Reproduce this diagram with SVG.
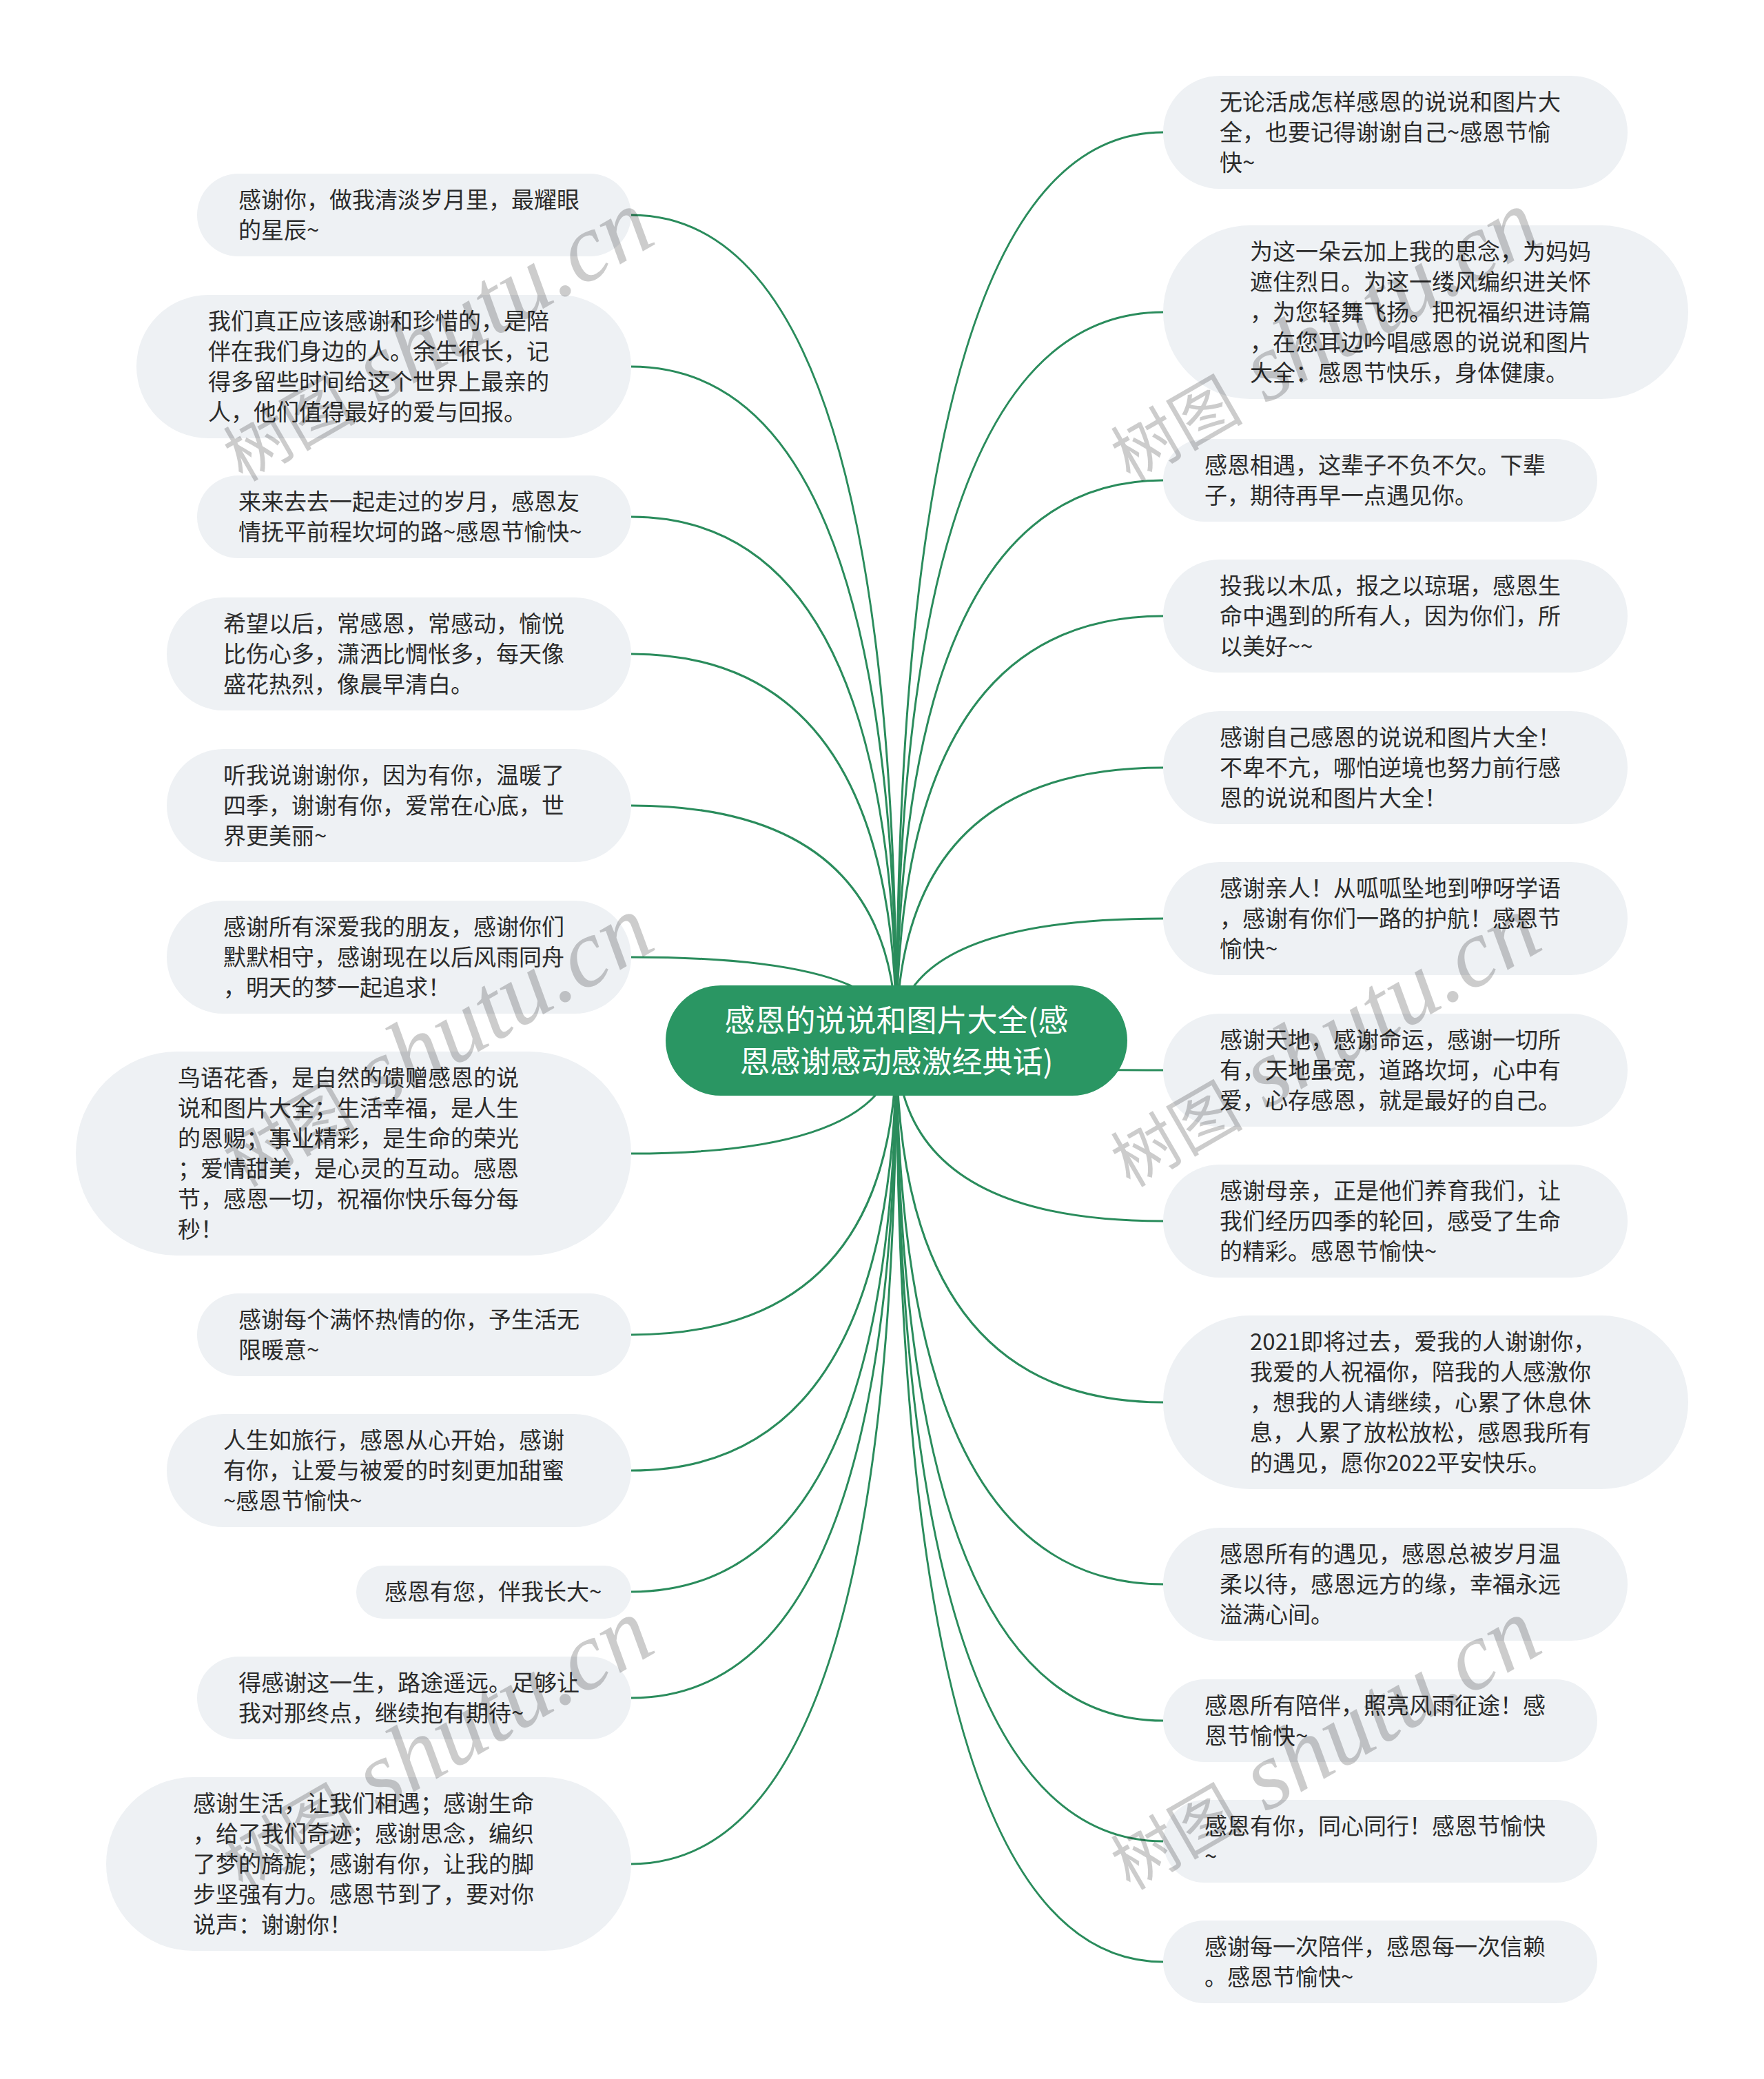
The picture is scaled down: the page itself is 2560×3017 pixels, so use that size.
<svg xmlns="http://www.w3.org/2000/svg" width="2560" height="3017" viewBox="0 0 2560 3017">
<style>
.bg{fill:#ffffff}
.edge{fill:none;stroke:#2a8c5c;stroke-width:3}
.leaf rect{fill:#eef1f4}
.leaf text{font-family:"Noto Sans CJK SC","Noto Sans",sans-serif;font-size:33px;fill:#2b2b2b}
.root rect{fill:#2a9663}
.root text{font-family:"Noto Sans CJK SC","Noto Sans",sans-serif;font-size:44px;fill:#ffffff;text-anchor:middle}
.wm{fill:#000000;fill-opacity:0.2}
.wm .cj{font-family:"Noto Sans CJK SC",serif;font-size:96px}
.wm .la{font-family:"Liberation Serif",serif;font-style:italic;font-size:140px}
</style>
<rect class="bg" x="0" y="0" width="2560" height="3017"/>
<g id="connectors">
<path class="edge" d="M1301,1510 Q1301,312 916,312"/>
<path class="edge" d="M1301,1510 Q1301,532 916,532"/>
<path class="edge" d="M1301,1510 Q1301,750 916,750"/>
<path class="edge" d="M1301,1510 Q1301,949 916,949"/>
<path class="edge" d="M1301,1510 Q1301,1169 916,1169"/>
<path class="edge" d="M1301,1510 Q1301,1389 916,1389"/>
<path class="edge" d="M1301,1510 Q1301,1674 916,1674"/>
<path class="edge" d="M1301,1510 Q1301,1937 916,1937"/>
<path class="edge" d="M1301,1510 Q1301,2134 916,2134"/>
<path class="edge" d="M1301,1510 Q1301,2310 916,2310"/>
<path class="edge" d="M1301,1510 Q1301,2464 916,2464"/>
<path class="edge" d="M1301,1510 Q1301,2705 916,2705"/>
<path class="edge" d="M1301,1510 Q1301,192 1688,192"/>
<path class="edge" d="M1301,1510 Q1301,453 1688,453"/>
<path class="edge" d="M1301,1510 Q1301,697 1688,697"/>
<path class="edge" d="M1301,1510 Q1301,894 1688,894"/>
<path class="edge" d="M1301,1510 Q1301,1114 1688,1114"/>
<path class="edge" d="M1301,1510 Q1301,1333 1688,1333"/>
<path class="edge" d="M1301,1510 Q1301,1553 1688,1553"/>
<path class="edge" d="M1301,1510 Q1301,1772 1688,1772"/>
<path class="edge" d="M1301,1510 Q1301,2035 1688,2035"/>
<path class="edge" d="M1301,1510 Q1301,2299 1688,2299"/>
<path class="edge" d="M1301,1510 Q1301,2497 1688,2497"/>
<path class="edge" d="M1301,1510 Q1301,2672 1688,2672"/>
<path class="edge" d="M1301,1510 Q1301,2847 1688,2847"/>
</g>
<g id="root" class="root">
<rect x="966" y="1430" width="670" height="160" rx="80"/>
<text x="1301" y="1497">感恩的说说和图片大全(感</text>
<text x="1301" y="1557">恩感谢感动感激经典话)</text>
</g>
<g id="L1" class="leaf"><rect x="286" y="252" width="630" height="120" rx="60"/>
<text x="346" y="302">感谢你，做我清淡岁月里，最耀眼</text><text x="346" y="346">的星辰~</text></g>
<g id="L2" class="leaf"><rect x="198" y="428" width="718" height="208" rx="104"/>
<text x="302" y="478">我们真正应该感谢和珍惜的，是陪</text><text x="302" y="522">伴在我们身边的人。余生很长，记</text><text x="302" y="566">得多留些时间给这个世界上最亲的</text><text x="302" y="610">人，他们值得最好的爱与回报。</text></g>
<g id="L3" class="leaf"><rect x="286" y="690" width="630" height="120" rx="60"/>
<text x="346" y="740">来来去去一起走过的岁月，感恩友</text><text x="346" y="784">情抚平前程坎坷的路~感恩节愉快~</text></g>
<g id="L4" class="leaf"><rect x="242" y="867" width="674" height="164" rx="82"/>
<text x="324" y="917">希望以后，常感恩，常感动，愉悦</text><text x="324" y="961">比伤心多，潇洒比惆怅多，每天像</text><text x="324" y="1005">盛花热烈，像晨早清白。</text></g>
<g id="L5" class="leaf"><rect x="242" y="1087" width="674" height="164" rx="82"/>
<text x="324" y="1137">听我说谢谢你，因为有你，温暖了</text><text x="324" y="1181">四季，谢谢有你，爱常在心底，世</text><text x="324" y="1225">界更美丽~</text></g>
<g id="L6" class="leaf"><rect x="242" y="1307" width="674" height="164" rx="82"/>
<text x="324" y="1357">感谢所有深爱我的朋友，感谢你们</text><text x="324" y="1401">默默相守，感谢现在以后风雨同舟</text><text x="324" y="1445">，明天的梦一起追求！</text></g>
<g id="L7" class="leaf"><rect x="110" y="1526" width="806" height="296" rx="148"/>
<text x="258" y="1576">鸟语花香，是自然的馈赠感恩的说</text><text x="258" y="1620">说和图片大全；生活幸福，是人生</text><text x="258" y="1664">的恩赐；事业精彩，是生命的荣光</text><text x="258" y="1708">；爱情甜美，是心灵的互动。感恩</text><text x="258" y="1752">节，感恩一切，祝福你快乐每分每</text><text x="258" y="1796">秒！</text></g>
<g id="L8" class="leaf"><rect x="286" y="1877" width="630" height="120" rx="60"/>
<text x="346" y="1927">感谢每个满怀热情的你，予生活无</text><text x="346" y="1971">限暖意~</text></g>
<g id="L9" class="leaf"><rect x="242" y="2052" width="674" height="164" rx="82"/>
<text x="324" y="2102">人生如旅行，感恩从心开始，感谢</text><text x="324" y="2146">有你，让爱与被爱的时刻更加甜蜜</text><text x="324" y="2190">~感恩节愉快~</text></g>
<g id="L10" class="leaf"><rect x="517" y="2272" width="399" height="77" rx="38.5"/>
<text x="558" y="2322">感恩有您，伴我长大~</text></g>
<g id="L11" class="leaf"><rect x="286" y="2404" width="630" height="120" rx="60"/>
<text x="346" y="2454">得感谢这一生，路途遥远。足够让</text><text x="346" y="2498">我对那终点，继续抱有期待~</text></g>
<g id="L12" class="leaf"><rect x="154" y="2579" width="762" height="252" rx="126"/>
<text x="280" y="2629">感谢生活，让我们相遇；感谢生命</text><text x="280" y="2673">，给了我们奇迹；感谢思念，编织</text><text x="280" y="2717">了梦的旖旎；感谢有你，让我的脚</text><text x="280" y="2761">步坚强有力。感恩节到了，要对你</text><text x="280" y="2805">说声：谢谢你！</text></g>
<g id="R1" class="leaf"><rect x="1688" y="110" width="674" height="164" rx="82"/>
<text x="1770" y="160">无论活成怎样感恩的说说和图片大</text><text x="1770" y="204">全，也要记得谢谢自己~感恩节愉</text><text x="1770" y="248">快~</text></g>
<g id="R2" class="leaf"><rect x="1688" y="327" width="762" height="252" rx="126"/>
<text x="1814" y="377">为这一朵云加上我的思念，为妈妈</text><text x="1814" y="421">遮住烈日。为这一缕风编织进关怀</text><text x="1814" y="465">，为您轻舞飞扬。把祝福织进诗篇</text><text x="1814" y="509">，在您耳边吟唱感恩的说说和图片</text><text x="1814" y="553">大全：感恩节快乐，身体健康。</text></g>
<g id="R3" class="leaf"><rect x="1688" y="637" width="630" height="120" rx="60"/>
<text x="1748" y="687">感恩相遇，这辈子不负不欠。下辈</text><text x="1748" y="731">子，期待再早一点遇见你。</text></g>
<g id="R4" class="leaf"><rect x="1688" y="812" width="674" height="164" rx="82"/>
<text x="1770" y="862">投我以木瓜，报之以琼琚，感恩生</text><text x="1770" y="906">命中遇到的所有人，因为你们，所</text><text x="1770" y="950">以美好~~</text></g>
<g id="R5" class="leaf"><rect x="1688" y="1032" width="674" height="164" rx="82"/>
<text x="1770" y="1082">感谢自己感恩的说说和图片大全！</text><text x="1770" y="1126">不卑不亢，哪怕逆境也努力前行感</text><text x="1770" y="1170">恩的说说和图片大全！</text></g>
<g id="R6" class="leaf"><rect x="1688" y="1251" width="674" height="164" rx="82"/>
<text x="1770" y="1301">感谢亲人！从呱呱坠地到咿呀学语</text><text x="1770" y="1345">，感谢有你们一路的护航！感恩节</text><text x="1770" y="1389">愉快~</text></g>
<g id="R7" class="leaf"><rect x="1688" y="1471" width="674" height="164" rx="82"/>
<text x="1770" y="1521">感谢天地，感谢命运，感谢一切所</text><text x="1770" y="1565">有，天地虽宽，道路坎坷，心中有</text><text x="1770" y="1609">爱，心存感恩，就是最好的自己。</text></g>
<g id="R8" class="leaf"><rect x="1688" y="1690" width="674" height="164" rx="82"/>
<text x="1770" y="1740">感谢母亲，正是他们养育我们，让</text><text x="1770" y="1784">我们经历四季的轮回，感受了生命</text><text x="1770" y="1828">的精彩。感恩节愉快~</text></g>
<g id="R9" class="leaf"><rect x="1688" y="1909" width="762" height="252" rx="126"/>
<text x="1814" y="1959">2021即将过去，爱我的人谢谢你，</text><text x="1814" y="2003">我爱的人祝福你，陪我的人感激你</text><text x="1814" y="2047">，想我的人请继续，心累了休息休</text><text x="1814" y="2091">息，人累了放松放松，感恩我所有</text><text x="1814" y="2135">的遇见，愿你2022平安快乐。</text></g>
<g id="R10" class="leaf"><rect x="1688" y="2217" width="674" height="164" rx="82"/>
<text x="1770" y="2267">感恩所有的遇见，感恩总被岁月温</text><text x="1770" y="2311">柔以待，感恩远方的缘，幸福永远</text><text x="1770" y="2355">溢满心间。</text></g>
<g id="R11" class="leaf"><rect x="1688" y="2437" width="630" height="120" rx="60"/>
<text x="1748" y="2487">感恩所有陪伴，照亮风雨征途！感</text><text x="1748" y="2531">恩节愉快~</text></g>
<g id="R12" class="leaf"><rect x="1688" y="2612" width="630" height="120" rx="60"/>
<text x="1748" y="2662">感恩有你，同心同行！感恩节愉快</text><text x="1748" y="2706">~</text></g>
<g id="R13" class="leaf"><rect x="1688" y="2787" width="630" height="120" rx="60"/>
<text x="1748" y="2837">感谢每一次陪伴，感恩每一次信赖</text><text x="1748" y="2881">。感恩节愉快~</text></g>
<g id="watermarks" class="wm">
<text transform="translate(352,700) rotate(-30)"><tspan class="cj">树图</tspan><tspan class="la"> shutu.cn</tspan></text>
<text transform="translate(1640,700) rotate(-30)"><tspan class="cj">树图</tspan><tspan class="la"> shutu.cn</tspan></text>
<text transform="translate(352,1724) rotate(-30)"><tspan class="cj">树图</tspan><tspan class="la"> shutu.cn</tspan></text>
<text transform="translate(1640,1724) rotate(-30)"><tspan class="cj">树图</tspan><tspan class="la"> shutu.cn</tspan></text>
<text transform="translate(352,2744) rotate(-30)"><tspan class="cj">树图</tspan><tspan class="la"> shutu.cn</tspan></text>
<text transform="translate(1640,2744) rotate(-30)"><tspan class="cj">树图</tspan><tspan class="la"> shutu.cn</tspan></text>
</g>
</svg>
